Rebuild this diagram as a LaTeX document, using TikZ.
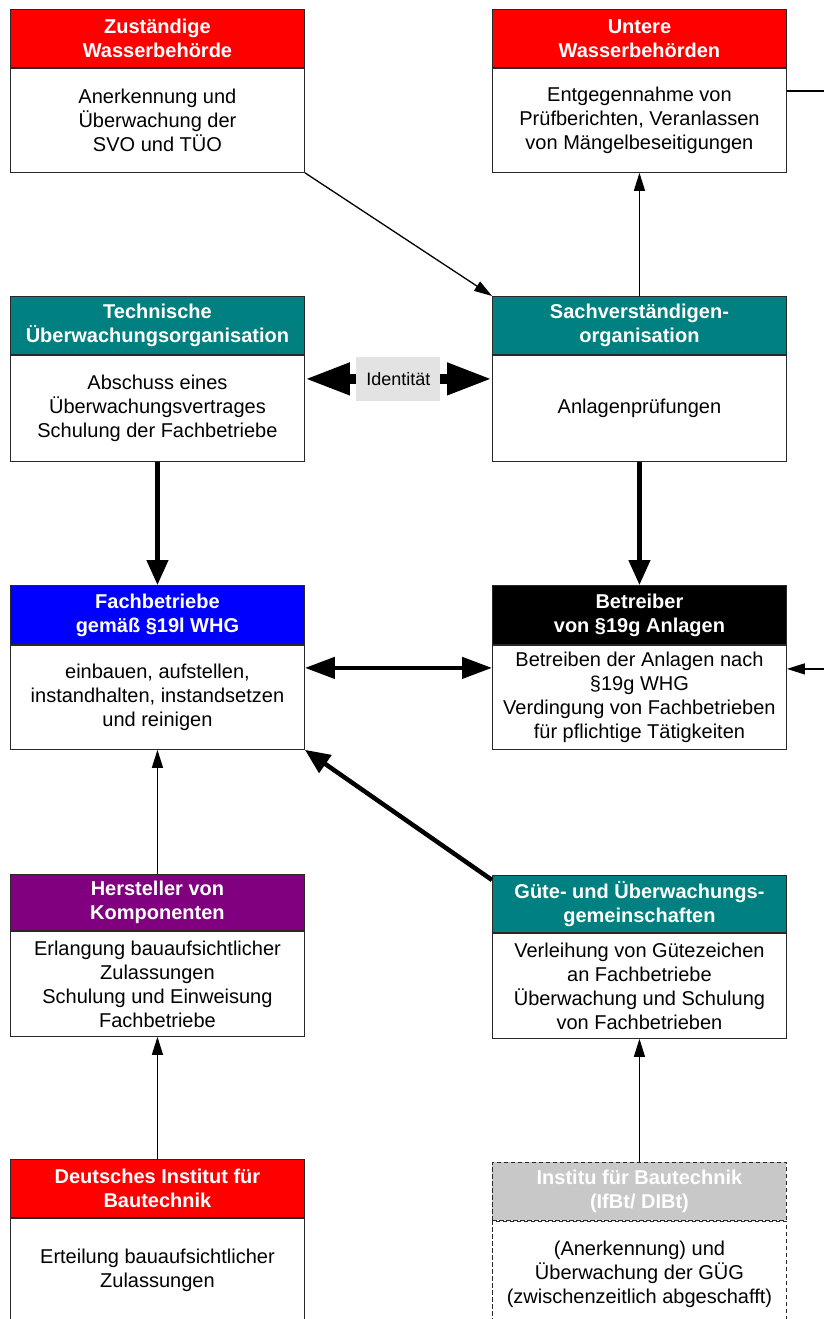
\documentclass[tikz,border=0pt]{standalone}
\usepackage{fontspec}
\setmainfont{Liberation Sans}
\usetikzlibrary{arrows.meta}
\definecolor{cRed}{RGB}{255,0,0}
\definecolor{cTeal}{RGB}{0,128,128}
\definecolor{cBlue}{RGB}{0,0,255}
\definecolor{cPurple}{RGB}{128,0,128}
\definecolor{cGrayH}{RGB}{200,200,200}
\definecolor{cIdent}{RGB}{227,227,227}
\definecolor{cBorder}{RGB}{40,40,40}
\begin{document}
\begin{tikzpicture}[x=1pt,y=-1pt,
 hdr/.style={draw=cBorder, line width=0.9pt, minimum width=294pt, inner sep=0pt, anchor=north west, text=white, align=center, font=\bfseries\fontsize{20}{24}\selectfont},
 bodybox/.style={draw=cBorder, line width=0.9pt, fill=white, minimum width=294pt, inner sep=0pt, anchor=north west, align=center, font=\fontsize{20}{24}\selectfont},
 dashbox/.style={dash pattern=on 4.5pt off 2.5pt},
 thinarr/.style={line width=1.3pt, -{Triangle[length=18pt,width=11pt]}},
 thickarr/.style={line width=4.5pt, -{Triangle[length=25pt,width=21pt]}},
 bigarr/.style={line width=10pt, {Triangle[length=45pt,width=30pt]}-{Triangle[length=45pt,width=30pt]}},
 identlbl/.style={fill=cIdent, minimum width=84pt, minimum height=44pt, inner sep=0pt, font=\fontsize{18}{22}\selectfont}]
\useasboundingbox (0,0) rectangle (824,1319);
\clip (0,0) rectangle (824,1319);
\fill[white] (0,0) rectangle (824,1319);

% Row 1
\node[hdr, fill=cRed, minimum height=58pt] (zusth) at (10,9) {Zuständige\\Wasserbehörde};
\node[bodybox, minimum height=104pt] (zustb) at (zusth.south west) {Anerkennung und\\Überwachung der\\SVO und TÜO};
\node[hdr, fill=cRed, minimum height=58pt] (unth) at (492,9) {Untere\\Wasserbehörden};
\node[bodybox, minimum height=104pt] (untb) at (unth.south west) {Entgegennahme von\\Prüfberichten, Veranlassen\\von Mängelbeseitigungen};

% Row 2
\node[hdr, fill=cTeal, minimum height=58pt] (techh) at (10,296) {Technische\\Überwachungsorganisation};
\node[bodybox, minimum height=106pt] (techb) at (techh.south west) {Abschuss eines\\Überwachungsvertrages\\Schulung der Fachbetriebe};
\node[hdr, fill=cTeal, minimum height=58pt] (sachh) at (492,296) {Sachverständigen-\\organisation};
\node[bodybox, minimum height=106pt] (sachb) at (sachh.south west) {Anlagenprüfungen};

% Row 3
\node[hdr, fill=cBlue, minimum height=59pt] (fachh) at (10,585) {Fachbetriebe\\gemäß §19l WHG};
\node[bodybox, minimum height=104pt] (fachb) at (fachh.south west) {einbauen, aufstellen,\\instandhalten, instandsetzen\\und reinigen};
\node[hdr, fill=black, minimum height=59pt] (beth) at (492,585) {Betreiber\\von §19g Anlagen};
\node[bodybox, minimum height=104pt] (betb) at (beth.south west) {Betreiben der Anlagen nach\\§19g WHG\\Verdingung von Fachbetrieben\\für pflichtige Tätigkeiten};

% Row 4
\node[hdr, fill=cPurple, minimum height=56pt] (hersth) at (10,874) {Hersteller von\\Komponenten};
\node[bodybox, minimum height=105pt] (herstb) at (hersth.south west) {Erlangung bauaufsichtlicher\\Zulassungen\\Schulung und Einweisung\\Fachbetriebe};
\node[hdr, fill=cTeal, minimum height=57pt] (gueteh) at (492,875) {Güte- und Überwachungs-\\gemeinschaften};
\node[bodybox, minimum height=105pt] (gueteb) at (gueteh.south west) {Verleihung von Gütezeichen\\an Fachbetriebe\\Überwachung und Schulung\\von Fachbetrieben};

% Row 5
\node[hdr, fill=cRed, minimum height=58pt] (dibth) at (10,1159) {Deutsches Institut für\\Bautechnik};
\node[bodybox, minimum height=104pt] (dibtb) at (dibth.south west) {Erteilung bauaufsichtlicher\\Zulassungen};
\node[hdr, fill=cGrayH, dashbox, minimum height=58pt] (ifbth) at (492,1162) {Institu für Bautechnik\\(IfBt/ DIBt)};
\node[bodybox, dashbox, minimum height=106pt] (ifbtb) at (ifbth.south west) {(Anerkennung) und\\Überwachung der GÜG\\(zwischenzeitlich abgeschafft)};

% Connectors
\draw[thinarr] (zustb.south east) -- (sachh.north west);
\draw[thinarr] (sachh.north) -- (untb.south);
\draw[thinarr] ([yshift=-23pt]untb.north east) -- ++(60,0) |- ([yshift=-24pt]betb.north east);
\draw[bigarr] ([yshift=-24pt]techb.north east) -- ([yshift=-24pt]sachb.north west)
  node[identlbl, midway] (ident) {Identität};
\draw[thickarr] (techb.south) -- (fachh.north);
\draw[thickarr] (sachb.south) -- (beth.north);
\draw[thickarr, {Triangle[length=30pt,width=21pt]}-{Triangle[length=30pt,width=21pt]}] ([yshift=-23pt]fachb.north east) -- ([yshift=-23pt]betb.north west);
\draw[thickarr] ([yshift=-5pt]gueteh.north west) -- (fachb.south east);
\draw[thinarr] (hersth.north) -- (fachb.south);
\draw[thinarr] (dibth.north) -- (herstb.south);
\draw[thinarr] (ifbth.north) -- (gueteb.south);
\end{tikzpicture}
\end{document}
